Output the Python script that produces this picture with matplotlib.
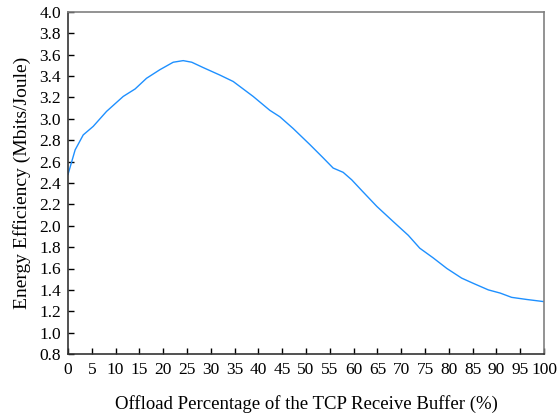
import matplotlib
matplotlib.use("Agg")
import matplotlib.pyplot as plt

# offload percentage (%) and energy efficiency (Mbits/Joule)
offload = [0, 1.5, 3.2, 5.3, 8.1, 11.6, 14.1, 16.5, 19.3, 22.1, 24.2, 26.0, 28.4,
           31.9, 34.7, 38.9, 42.4, 44.5, 47.3, 50.8, 53.5, 55.7, 57.8, 59.6, 61.7,
           64.9, 68.3, 71.5, 73.9, 76.7, 79.6, 82.7, 85.2, 88.3, 90.8, 93.2, 96.4, 100]
efficiency = [2.48, 2.71, 2.85, 2.93, 3.07, 3.21, 3.28, 3.38, 3.46, 3.53, 3.545, 3.53, 3.48,
              3.41, 3.35, 3.21, 3.08, 3.02, 2.91, 2.76, 2.64, 2.54, 2.50, 2.43, 2.33,
              2.18, 2.04, 1.91, 1.79, 1.70, 1.60, 1.51, 1.46, 1.40, 1.37, 1.33, 1.31, 1.29]

plt.rcParams['font.family'] = ['Liberation Serif', 'DejaVu Serif']

fig = plt.figure(figsize=(5.58, 4.18), dpi=100)
ax = fig.add_axes([68 / 558, 1 - 354 / 418, (544 - 68) / 558, (354 - 12) / 418])

ax.plot(offload, efficiency, color='#1E90FF', linewidth=1.0)

ax.set_xlim(0, 100)
ax.set_ylim(0.8, 4.0)
ax.set_xticks(range(0, 101, 5))
ax.set_yticks([0.8 + 0.2 * i for i in range(17)])
ax.set_yticklabels([f"{0.8 + 0.2 * i:.1f}" for i in range(17)])
ax.tick_params(direction='in', length=4, width=1, labelsize=12.5, colors='black')
ax.tick_params(axis='x', pad=6)
ax.tick_params(axis='y', pad=5)

for side in ['left', 'bottom']:
    ax.spines[side].set_color('#333333')
    ax.spines[side].set_linewidth(1.2)
for side in ['top', 'right']:
    ax.spines[side].set_color('#808080')
    ax.spines[side].set_linewidth(1.2)

ax.set_xlabel('Offload Percentage of the TCP Receive Buffer (%)', fontsize=13.5, labelpad=12)
ax.set_ylabel('Energy Efficiency (Mbits/Joule)', fontsize=14, labelpad=6)

fig.savefig('out.png', dpi=100)
